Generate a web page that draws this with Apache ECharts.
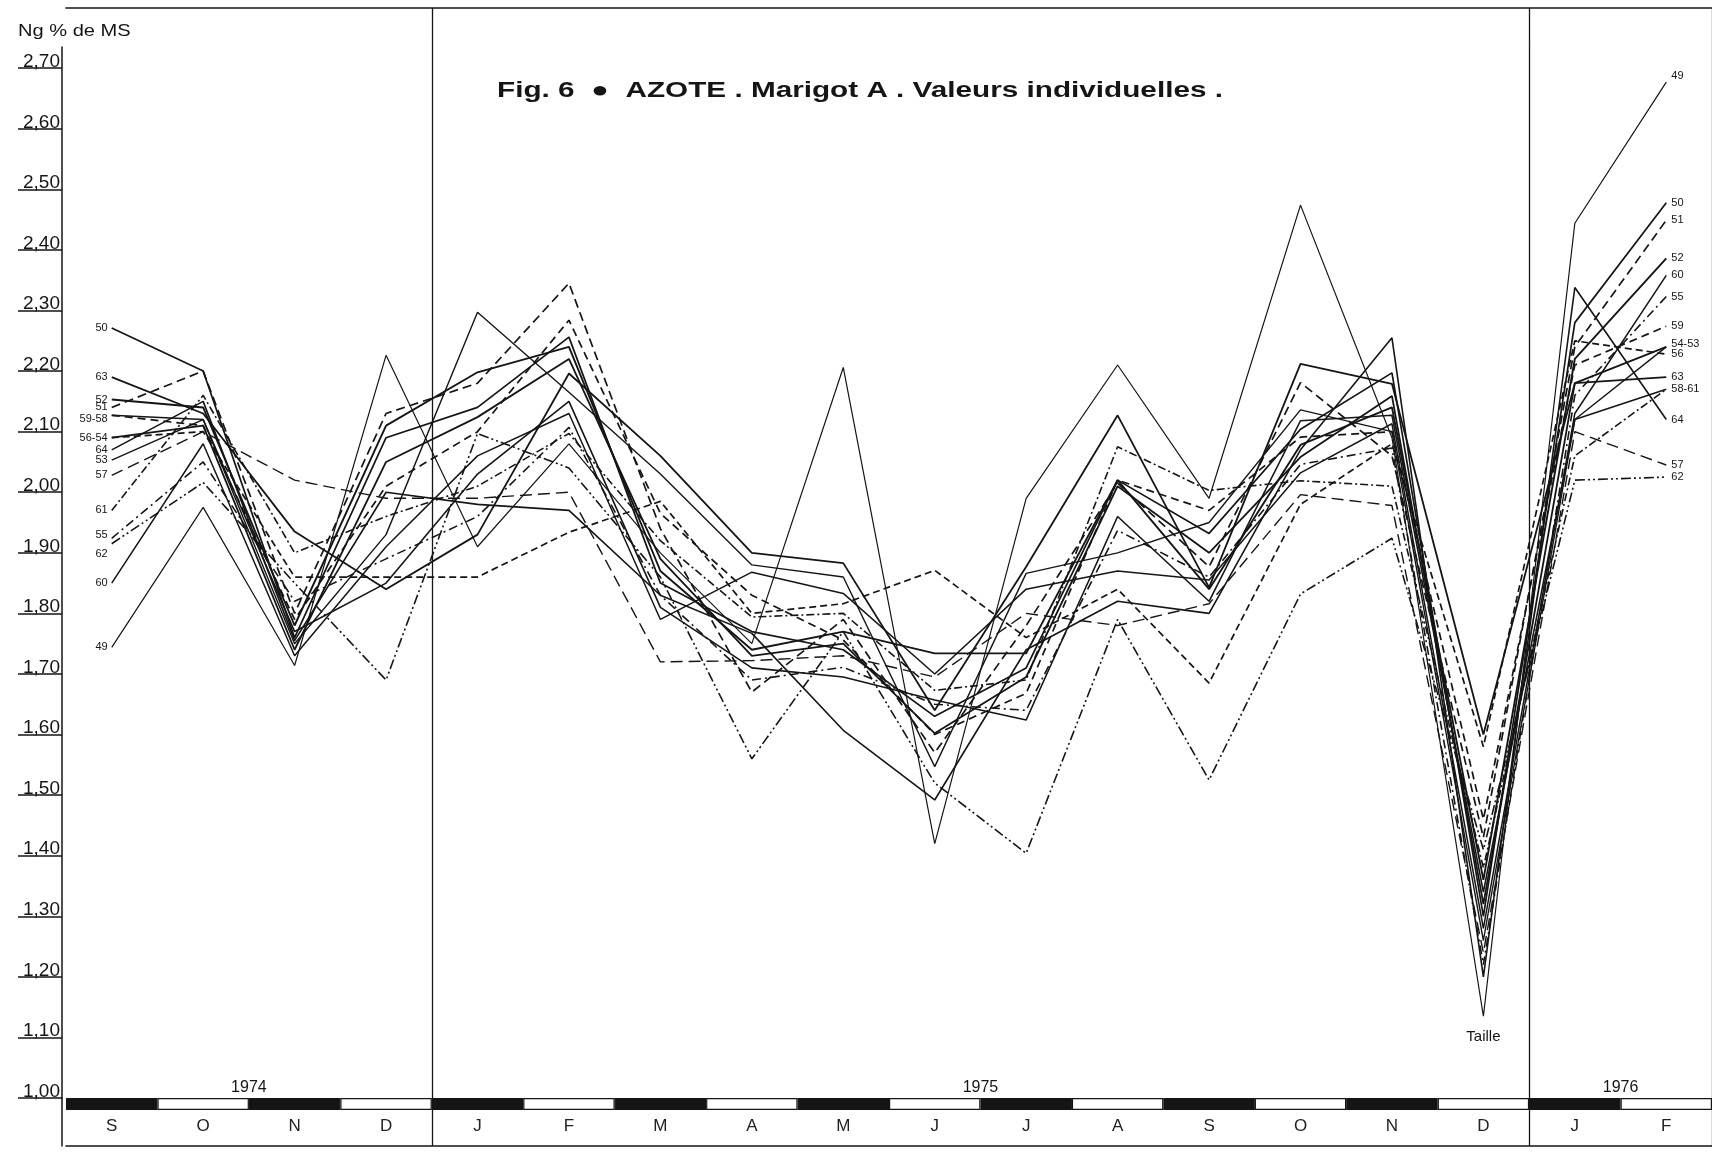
<!DOCTYPE html>
<html><head><meta charset="utf-8">
<script src="https://cdn.jsdelivr.net/npm/echarts@6/dist/echarts.min.js"></script>
<style>html,body{margin:0;padding:0;background:#fff}#c{width:1712px;height:1154px}</style>
</head><body><div id="c"></div>
<script>
// ---------- DATA ----------
const months = ['S','O','N','D','J','F','M','A','M','J','J','A','S','O','N','D','J','F'];
const yearLabels = ['1974','1975','1976'];
const yearBoundaries = [2, 10, 17];      // category index whose left edge the year is centred on
const dividerBoundaries = [4, 16];       // year dividers (left edge of category)
const yTicks = [1.0,1.1,1.2,1.3,1.4,1.5,1.6,1.7,1.8,1.9,2.0,2.1,2.2,2.3,2.4,2.5,2.6,2.7];
const trees = ['49','50','51','52','53','54','55','56','57','58','59','60','61','62','63','64'];

const v49 = [1.744,1.975,1.714,2.226,1.91,2.08,1.90,1.75,2.206,1.42,1.99,2.21,1.99,2.474,2.09,1.135,2.444,2.677];
const v50 = [2.271,2.20,1.76,2.09,2.14,2.256,1.85,1.77,1.74,1.63,1.71,2.02,1.932,2.104,2.197,1.30,2.28,2.478];
const v51 = [2.14,2.20,1.80,2.13,2.18,2.345,1.94,1.67,1.79,1.57,1.78,2.015,1.877,2.181,2.06,1.43,2.24,2.449];
const v52 = [2.153,2.14,1.78,2.11,2.198,2.24,1.87,1.74,1.77,1.734,1.734,2.02,1.84,2.078,2.14,1.36,2.22,2.386];
const v53 = [2.053,2.12,1.75,1.93,2.297,2.165,2.03,1.88,1.86,1.547,1.866,1.90,1.95,2.136,2.10,1.26,2.12,2.24];
const v54 = [2.09,2.11,1.74,2.05,2.124,2.22,1.89,1.73,1.75,1.602,1.695,2.01,1.90,2.058,2.159,1.32,2.18,2.24];
const v55 = [1.924,2.05,1.82,1.89,1.96,2.107,1.83,1.69,1.711,1.65,1.64,1.937,1.86,2.046,2.073,1.22,2.16,2.323];
const v56 = [2.09,2.10,1.86,1.86,1.86,1.934,1.985,1.80,1.816,1.871,1.76,1.84,1.685,1.98,2.08,1.58,2.25,2.228];
const v57 = [2.028,2.10,2.02,1.99,1.99,2.00,1.72,1.722,1.73,1.695,1.80,1.78,1.816,1.996,1.978,1.24,2.10,2.045];
const v58 = [2.127,2.12,1.77,1.85,2.03,2.15,1.81,1.71,1.695,1.657,1.624,1.96,1.82,2.118,2.127,1.34,2.12,2.17];
const v59 = [2.127,2.11,1.79,2.01,2.10,2.284,1.965,1.83,1.756,1.60,1.668,2.02,1.97,2.091,2.10,1.46,2.21,2.274];
const v60 = [1.85,2.08,1.73,1.91,2.06,2.13,1.79,1.868,1.833,1.70,1.84,1.87,1.855,2.032,2.113,1.28,2.13,2.358];
const v61 = [1.97,2.16,1.90,1.96,2.01,2.097,1.92,1.794,1.80,1.673,1.69,2.075,2.003,2.019,2.01,1.38,2.06,2.17];
const v62 = [1.915,2.016,1.85,1.69,2.097,2.04,1.86,1.56,1.77,1.52,1.404,1.79,1.525,1.832,1.924,1.41,2.02,2.025];
const v63 = [2.19,2.13,1.935,1.84,1.93,2.196,2.06,1.90,1.883,1.64,1.877,2.127,1.843,2.212,2.179,1.60,2.18,2.19];
const v64 = [2.07,2.15,1.755,2.00,1.98,1.97,1.83,1.767,1.607,1.492,1.74,1.82,1.80,2.07,2.255,1.20,2.338,2.12];
const values = [v49,v50,v51,v52,v53,v54,v55,v56,v57,v58,v59,v60,v61,v62,v63,v64];

const leftLabels  = ['49','50','51','52','53','','55','56-54','57','','59-58','60','61','62','63','64'];
const rightLabels = ['49','50','51','52','','54-53','55','56','57','58-61','59','60','','62','63','64'];
const titleText = 'Fig. 6  \u25CF  AZOTE . Marigot A . Valeurs individuelles .';
const yName = 'Ng % de MS';
const noteText = 'Taille';
const noteTree = '49', noteIndex = 15;

// ---------- STYLE ----------
const INK = '#151515';
const styles = {
  '49':{w:1.2,t:'solid'}, '50':{w:1.7,t:'solid'}, '51':{w:1.7,t:[9,5]}, '52':{w:1.9,t:'solid'},
  '53':{w:1.4,t:'solid'}, '54':{w:1.8,t:'solid'}, '55':{w:1.6,t:[9,4,2,4]}, '56':{w:1.7,t:[7,4]},
  '57':{w:1.4,t:[12,6]}, '58':{w:1.6,t:'solid'}, '59':{w:1.7,t:[8,5]}, '60':{w:1.5,t:'solid'},
  '61':{w:1.6,t:[8,3,2,3]}, '62':{w:1.6,t:[10,3,2,3,2,3]}, '63':{w:1.8,t:'solid'}, '64':{w:1.6,t:'solid'}
};
const leftShift = {'59-58':4,'55':-3,'62':10};
const rightShift = {'49':-6,'54-53':-3};
const FONT = '"Liberation Sans", Arial, sans-serif';
const cats = months.map((m,i)=>m+'|'+i);
const catFmt = v => String(v).split('|')[0];
const splitFn = (i) => dividerBoundaries.indexOf(i) >= 0;
const G = {left:66, width:1652};

const chart = echarts.init(document.getElementById('c'), null, {renderer:'canvas'});

const lineSeries = trees.map((t,k)=>({
  type:'line', name:t, xAxisIndex:0, yAxisIndex:0,
  symbol:'circle', symbolSize:0.01, showSymbol:true, showAllSymbol:true,
  itemStyle:{color:'rgba(0,0,0,0)'},
  lineStyle:{color:INK, width:styles[t].w, type:styles[t].t},
  animation:false, silent:true,
  data: values[k].map((v,i)=>{
    if (i===0 && leftLabels[k]) return {value:v, label:{show:true, position:'left', distance:4,
      formatter:leftLabels[k], fontSize:11, color:INK, fontFamily:FONT, offset:[0, leftShift[leftLabels[k]]||0]}};
    if (i===values[k].length-1 && rightLabels[k]) return {value:v, label:{show:true, position:'right', distance:5,
      formatter:rightLabels[k], fontSize:11, color:INK, fontFamily:FONT, offset:[0, rightShift[rightLabels[k]]||0]}};
    if (t===noteTree && i===noteIndex) return {value:v, label:{show:true, position:'bottom', distance:13,
      formatter:noteText, fontSize:15, color:INK, fontFamily:FONT}};
    return v;
  })
}));

const option = {
  backgroundColor:'#fff',
  animation:false,
  grid:[
    {left:G.left, width:G.width, top:47, height:1051},
    {left:G.left, width:G.width, top:8, height:39},
    {left:G.left, width:G.width, top:1098, height:48}
  ],
  xAxis:[
    {gridIndex:0, type:'category', data:cats, boundaryGap:true,
     axisLine:{show:false}, axisTick:{show:false}, axisLabel:{show:false},
     splitLine:{show:true, interval:splitFn, lineStyle:{color:INK, width:1.3}}},
    {gridIndex:1, type:'category', data:cats, position:'top', boundaryGap:true,
     axisLine:{show:true, onZero:false, lineStyle:{color:INK, width:1.6}}, axisTick:{show:false}, axisLabel:{show:false},
     splitLine:{show:true, interval:splitFn, lineStyle:{color:INK, width:1.3}}},
    {gridIndex:2, type:'category', data:cats, position:'bottom', boundaryGap:true,
     axisLine:{show:true, onZero:false, lineStyle:{color:INK, width:1.6}}, axisTick:{show:false},
     axisLabel:{inside:true, margin:11, fontSize:17, color:'#222', fontFamily:FONT, formatter:catFmt, interval:0},
     splitLine:{show:true, interval:splitFn, lineStyle:{color:INK, width:1.3}}}
  ],
  yAxis:[
    {gridIndex:0, type:'value', min:1, max:2.735, offset:4,
     axisLine:{show:true, lineStyle:{color:INK, width:1.5}},
     axisTick:{show:true, inside:false, length:44, customValues:yTicks, lineStyle:{color:INK, width:1.5}},
     axisLabel:{customValues:yTicks, formatter:v=>v.toFixed(2).replace('.',','), margin:2,
       verticalAlign:'bottom', lineHeight:13, fontSize:19, color:INK, fontFamily:FONT},
     splitLine:{show:false}},
    {gridIndex:1, type:'value', show:false},
    {gridIndex:2, type:'value', min:0, max:4, inverse:true, offset:4,
     axisLine:{show:true, onZero:false, lineStyle:{color:INK, width:1.5}}, axisTick:{show:false},
     axisLabel:{show:false}, splitLine:{show:false}}
  ],
  series:[
    ...lineSeries,
    {type:'bar', xAxisIndex:2, yAxisIndex:2, barWidth:'100%', barCategoryGap:'0%', silent:true,
     data: months.map((m,i)=>({value:1, itemStyle:{color: i%2===0 ? INK : '#fff', borderColor:INK, borderWidth:1.2}}))}
  ]
};
chart.setOption(option);

// texts: title, axis name, and year labels centred on category boundaries (positions from the band axis)
const px = i => chart.convertToPixel({xAxisIndex:2}, i);
const bandTop = chart.convertToPixel({yAxisIndex:2}, 0);
const graphics = yearLabels.map((y,j)=>{
  const b = yearBoundaries[j];
  const x = (px(b-1)+px(b))/2;
  return {type:'text', x:x, y:bandTop-2, silent:true,
    style:{text:y, fill:INK, font:'16px '+FONT, textAlign:'center', textVerticalAlign:'bottom'}};
});
graphics.push({type:'text', x:497, y:91, scaleX:1.35, silent:true,
  style:{text:titleText, fill:INK, font:'bold 22px '+FONT, textAlign:'left', textVerticalAlign:'middle'}});
graphics.push({type:'text', x:18, y:31, scaleX:1.18, silent:true,
  style:{text:yName, fill:INK, font:'17px '+FONT, textAlign:'left', textVerticalAlign:'middle'}});
chart.setOption({graphic: graphics});
</script></body></html>
